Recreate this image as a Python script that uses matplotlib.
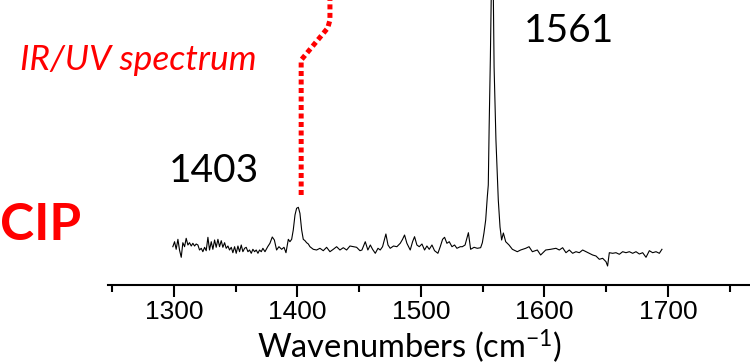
import numpy as np
import matplotlib
matplotlib.use("Agg")
import matplotlib.pyplot as plt

# Raman-type spectrum (arbitrary intensity units)
wavenumber = [
    1299.1, 1300.5, 1301.8, 1303.2, 1304.5, 1305.9, 1307.2, 1308.6, 1309.9, 1311.3,
    1312.6, 1314.0, 1315.3, 1316.7, 1318.0, 1319.4, 1320.7, 1322.1, 1323.4, 1324.8,
    1326.1, 1327.5, 1328.8, 1330.2, 1331.5, 1332.9, 1334.2, 1335.6, 1336.9, 1338.3,
    1339.6, 1341.0, 1342.3, 1343.7, 1345.0, 1346.4, 1347.7, 1349.1, 1350.4, 1351.8,
    1353.1, 1354.5, 1355.8, 1357.2, 1358.5, 1359.9, 1361.2, 1362.6, 1363.9, 1365.3,
    1366.6, 1368.0, 1369.3, 1370.7, 1372.0,
    1373.7, 1375.9, 1377.7, 1379.6, 1381.3, 1383.1, 1385.0, 1387.2, 1389.1, 1390.7,
    1392.6, 1393.9, 1395.3, 1396.6, 1398.0, 1399.3, 1400.7, 1402.0, 1403.4, 1404.7,
    1406.1, 1407.4, 1408.8, 1410.1, 1412.8, 1415.5, 1418.2, 1420.9, 1423.6, 1426.3,
    1429.0, 1431.7, 1434.4, 1437.1, 1439.8, 1442.5, 1445.2, 1447.9, 1450.6,
    1452.2, 1454.9, 1457.0, 1459.0, 1460.8, 1463.0, 1465.2, 1467.0, 1468.9, 1471.6,
    1473.3, 1475.1, 1477.8, 1480.5, 1483.2, 1485.1, 1486.7, 1488.6, 1491.3, 1493.2,
    1494.8, 1496.7, 1498.6, 1500.8, 1502.9, 1504.8, 1506.7, 1508.9, 1511.0, 1513.7,
    1515.6, 1517.5, 1519.1, 1521.0, 1522.9, 1525.1, 1527.2, 1529.1, 1531.8, 1533.5,
    1535.7, 1538.4, 1540.2, 1543.0, 1545.6, 1548.3, 1549.7,
    1551.0, 1552.4, 1553.7, 1554.5, 1555.2, 1556.2, 1557.0, 1557.8, 1558.6, 1559.2,
    1560.7, 1562.6, 1564.0, 1565.3, 1566.7, 1568.6, 1571.3, 1574.0, 1578.0, 1580.7,
    1584.8, 1587.5, 1590.2, 1594.2, 1596.9, 1601.0, 1605.0,
    1609.3, 1612.0, 1614.7, 1617.4, 1620.1, 1622.8, 1625.5, 1628.2, 1630.9, 1633.6,
    1636.3, 1639.0, 1641.7, 1644.4, 1647.1, 1649.8, 1651.1, 1652.5, 1655.2, 1657.9,
    1660.6, 1663.3, 1666.0, 1668.7, 1671.4, 1674.1, 1676.8, 1679.5, 1682.2, 1684.9,
    1687.6, 1690.3, 1693.0, 1695.1,
]
intensity = [
    0.3, 5.3, -2.3, 7.7, -3, -10.3, 4.3, 0.3, 8.7, 2,
    4.3, 1, 3.7, 1, 3, 2, -3, -1.3, -4.7, -0.3,
    -3.7, 9.7, -3, 5.3, -2.3, 7, -0.3, 7.7, 0.3, 6.3,
    -0.3, 4.3, -1.3, 1, -3, -0.3, -5.7, 0.3, -6.3, 1,
    -4.7, 2, -4.7, -1.3, -0.3, -4.7, -3, -6.3, -2.3, -4.7,
    -3, -6.3, -3, -4.7, -1.3,
    -4.7, 0.3, 3.7, 10, 7, -3, 0.3, -2.3, -0.3, -5.7,
    7.7, 5.3, 7.7, 17, 32, 38.7, 39.7, 33.7, 17, 7.7,
    6.3, 4.3, 3, 0.3, -2.3, -3, -1.3, -3.7, -0.3, -4.7,
    -2.3, 0.3, -3, -0.7, -3, 1, 0.3, -0.3, -3.7,
    -3, 5.3, -3, 2, -2.3, -6.3, -1.3, -3, 0.3, 13,
    2, -1.3, 1, 0.3, 3.7, 7.7, 12, 3.7, -3, 5.3,
    10.3, 2, 0.3, 3, -3, 1, -2.3, 2, -3.7, -6.3,
    0.3, 7.7, 9.7, 3.7, 5.3, 0.3, 2, -1.3, 0.3, 0.3,
    2, 14.3, -2.3, -0.3, -1.3, -0.7, 4.3,
    14, 27, 50, 62, 120, 190, 260, 300, 250, 180,
    107, 47, 20, 7, 14, 5.3, 2, -2.3, -4.7, -3,
    -1.3, 0.3, -4.7, -3, -8, -3, -2.3,
    -1.3, -3, -0.7, -5.7, -3, -6.3, -4.7, -5.7, -3, -4.7,
    -6.3, -8, -9, -12.3, -11.3, -14.7, -19, -5.7, -6.3, -5.7,
    -7.3, -4.7, -5.7, -4.7, -6.3, -4.7, -7, -5.7, -10.3, -3.7,
    -5.7, -4.7, -6.3, -2.3,
]

# red dotted guide from the 1403 peak up out of the frame
guide_wn = [1403, 1403, 1424.5, 1426.3, 1426.3]
guide_int = [52, 187, 219, 227, 260]

RED = "#ff0000"

plt.rcParams["font.family"] = ["Lato", "DejaVu Sans"]
plt.rcParams["mathtext.fontset"] = "custom"
plt.rcParams["mathtext.rm"] = "Lato"
plt.rcParams["mathtext.it"] = "Lato:italic"

fig = plt.figure(figsize=(7.5, 3.63), dpi=100)
ax = fig.add_axes([108 / 750, 1 - 285 / 363, 1 - 108 / 750, 285 / 363])

ax.plot(wavenumber, intensity, color="black", linewidth=0.8)
ax.plot(guide_wn, guide_int, color=RED, linewidth=3.6,
        linestyle=(0, (1, 0.7)), dash_capstyle="butt")

ax.set_xlim(1246.6, 1766.4)
ax.set_ylim(-38, 247)

for s in ["top", "left", "right"]:
    ax.spines[s].set_visible(False)
ax.spines["bottom"].set_linewidth(1.5)
ax.set_yticks([])
ax.set_xticks([1300, 1400, 1500, 1600, 1700])
ax.set_xticks([1250, 1350, 1450, 1550, 1650, 1750], minor=True)
ax.tick_params(axis="x", which="major", direction="out", length=8.5, width=1.5, pad=2.5)
ax.tick_params(axis="x", which="minor", direction="out", length=5, width=1.5)
for lab in ax.get_xticklabels():
    lab.set_fontfamily("Liberation Sans")
    lab.set_fontsize(19)

ax.set_xlabel("Wavenumbers (cm$^{-1}$)", fontsize=23.5)
ax.xaxis.set_label_coords(0.4696, -0.148)

ax.text(1332.4, 65, "1403", fontsize=28, ha="center", va="baseline")
ax.text(1619.4, 205, "1561", fontsize=28, ha="center", va="baseline")

fig.text(0.0, 1 - 240 / 363, "CIP", color=RED, fontsize=37, fontweight="bold",
         ha="left", va="baseline")
fig.text(20 / 750, 1 - 70 / 363, "IR/UV spectrum", color=RED, fontsize=25.5,
         style="italic", ha="left", va="baseline")

fig.savefig("out.png", dpi=100)
